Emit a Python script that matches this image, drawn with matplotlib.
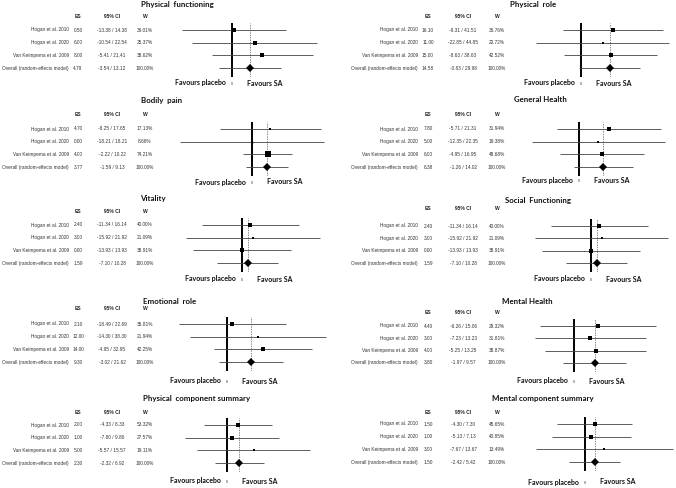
import matplotlib
matplotlib.use("Agg")
import matplotlib.pyplot as plt
import numpy as np

# ---------------- data ----------------
studies = ["Hogan et al. 2010", "Hogan et al. 2020", "Van Keimpema et al. 2009",
           "Overall (random-effects model)"]
outcomes = ["Physical  functioning", "Physical  role", "Bodily  pain", "General Health",
            "Vitality", "Social  Functioning", "Emotional  role", "Mental Health",
            "Physical  component summary", "Mental component summary"]

es_pf = [0.50, 6.00, 8.00, 4.79]
lo_pf = [-13.38, -10.54, -5.41, -3.54]
hi_pf = [14.38, 22.54, 21.41, 13.12]
w_pf = [36.01, 25.37, 38.62, 100.00]

es_pr = [16.10, 11.00, 15.00, 14.58]
lo_pr = [-9.31, -22.85, -8.63, -0.83]
hi_pr = [41.51, 44.85, 38.63, 29.98]
w_pr = [36.76, 20.72, 42.52, 100.00]

es_bp = [4.70, 0.00, 4.00, 3.77]
lo_bp = [-8.25, -18.21, -2.22, -1.59]
hi_bp = [17.65, 18.21, 10.22, 9.13]
w_bp = [17.13, 8.66, 74.21, 100.00]

es_gh = [7.80, 5.00, 6.00, 6.38]
lo_gh = [-5.71, -12.35, -4.95, -1.26]
hi_gh = [21.31, 22.35, 16.95, 14.02]
w_gh = [31.94, 19.38, 48.68, 100.00]

es_vt = [2.40, 3.00, 0.00, 1.59]
lo_vt = [-11.34, -15.92, -13.93, -7.10]
hi_vt = [16.14, 21.92, 13.93, 10.28]
w_vt = [40.00, 21.09, 38.91, 100.00]

es_sf = [2.40, 3.00, 0.00, 1.59]
lo_sf = [-11.34, -15.92, -13.93, -7.10]
hi_sf = [16.14, 21.92, 13.93, 10.28]
w_sf = [40.00, 21.09, 38.91, 100.00]

es_er = [2.10, 12.00, 14.00, 9.30]
lo_er = [-18.49, -14.30, -4.95, -3.02]
hi_er = [22.69, 38.30, 32.95, 21.62]
w_er = [35.81, 21.94, 42.25, 100.00]

es_mh = [4.40, 3.00, 4.00, 3.80]
lo_mh = [-6.26, -7.23, -5.25, -1.97]
hi_mh = [15.06, 13.23, 13.25, 9.57]
w_mh = [29.32, 31.81, 38.87, 100.00]

es_pcs = [2.00, 1.00, 5.00, 2.30]
lo_pcs = [-4.33, -7.80, -5.57, -2.32]
hi_pcs = [8.33, 9.80, 15.57, 6.92]
w_pcs = [53.32, 27.57, 19.11, 100.00]

es_mcs = [1.50, 1.00, 3.00, 1.50]
lo_mcs = [-4.30, -5.13, -7.67, -2.42]
hi_mcs = [7.30, 7.13, 13.67, 5.42]
w_mcs = [45.65, 40.85, 13.49, 100.00]

panel_data = [
    (es_pf, lo_pf, hi_pf, w_pf), (es_pr, lo_pr, hi_pr, w_pr),
    (es_bp, lo_bp, hi_bp, w_bp), (es_gh, lo_gh, hi_gh, w_gh),
    (es_vt, lo_vt, hi_vt, w_vt), (es_sf, lo_sf, hi_sf, w_sf),
    (es_er, lo_er, hi_er, w_er), (es_mh, lo_mh, hi_mh, w_mh),
    (es_pcs, lo_pcs, hi_pcs, w_pcs), (es_mcs, lo_mcs, hi_mcs, w_mcs),
]

# ---------------- layout (pixels) ----------------
W, H = 676, 488
# side, zero_px, px_per_unit, first_row_y, row_step, header_y, title_x, title_y, favours_y
layout = [
    ("L", 232, 3.76, 30, 12.7, 16, 177, 5, 83),
    ("R", 581, 1.97, 30, 12.7, 16, 533, 5, 83),
    ("L", 252, 3.93, 129, 12.7, 115, 162, 100, 182),
    ("R", 579, 3.83, 129, 12.7, 115, 540, 100, 180),
    ("L", 242, 3.54, 225, 12.7, 212, 153, 198, 279),
    ("R", 591, 3.51, 226, 12.4, 209, 538, 200, 279),
    ("L", 227, 2.59, 324, 12.7, 309, 170, 302, 381),
    ("R", 574, 5.44, 326, 12.3, 313, 527, 302, 381),
    ("L", 227, 5.35, 425, 12.7, 413, 197, 398, 481),
    ("R", 585, 6.42, 424, 12.7, 412, 543, 398, 482),
]
cols = {"L": dict(lab=69, es=78, ci=112, w=145, ax0=160, ax1=336),
        "R": dict(lab=418, es=428, ci=463, w=497, ax0=500, ax1=676)}

fig = plt.figure(figsize=(W / 100, H / 100), dpi=100)
fig.patch.set_facecolor("white")


def fx(x):
    return x / W


def fy(y):
    return 1 - y / H


small = dict(family="Liberation Sans", fontsize=3.4, color="#333333")
head = dict(family="Liberation Sans", fontsize=3.6, color="#222222", fontweight="bold")
titlef = dict(family="Lato", fontsize=5.7, fontweight="bold", color="#111111")
favf = dict(family="Lato", fontsize=5.0, fontweight="bold", color="#111111")

for (side, z, s, r0, dr, hy, tx, ty, fvy), (es, lo, hi, w), title in zip(layout, panel_data, outcomes):
    c = cols[side]
    # title
    fig.text(fx(tx), fy(ty), title, ha="center", va="center", **titlef)
    # headers
    fig.text(fx(c["es"]), fy(hy), "ES", ha="center", va="center", **head)
    fig.text(fx(c["ci"]), fy(hy), "95% CI", ha="center", va="center", **head)
    fig.text(fx(c["w"]), fy(hy), "W", ha="center", va="center", **head)
    for i, name in enumerate(studies):
        y = r0 + i * dr
        fig.text(fx(c["lab"]), fy(y), name, ha="right", va="center", **small)
        fig.text(fx(c["es"]), fy(y), f"{es[i]:.2f}", ha="center", va="center", **small)
        fig.text(fx(c["ci"]), fy(y), f"{lo[i]:.2f} / {hi[i]:.2f}", ha="center", va="center", **small)
        fig.text(fx(c["w"]), fy(y), f"{w[i]:.2f}%", ha="center", va="center", **small)

    # forest axes
    top_px = r0 - 7
    bot_px = r0 + 3 * dr + 9
    ax = fig.add_axes([fx(c["ax0"]), fy(bot_px), (c["ax1"] - c["ax0"]) / W, (bot_px - top_px) / H])
    ax.set_xlim((c["ax0"] - z) / s, (c["ax1"] - z) / s)
    ax.set_ylim(3 + 9 / dr, -7 / dr)
    ax.axis("off")
    ax.axvline(0, color="black", lw=1.4, zorder=2)
    ax.axvline(es[3], color="#555555", lw=0.5, ls=(0, (2, 1.5)), zorder=1)
    ypos = np.arange(4)
    ax.hlines(ypos, lo, hi, color="#444444", lw=0.6, zorder=3)
    for i in range(3):
        side_px = 6.0 * np.sqrt(w[i] / 100.0)
        ax.plot(es[i], ypos[i], marker="s", ms=side_px * 0.72, color="black", mec="black", mew=0, zorder=4)
    ax.plot(es[3], ypos[3], marker="D", ms=5.7 * 0.72, color="black", mec="black", mew=0, zorder=4)

    # favours labels
    fig.text(fx(z - 32), fy(fvy), "Favours placebo", ha="center", va="center", **favf)
    fig.text(fx(z + 33), fy(fvy), "Favours SA", ha="center", va="center", **favf)
    fig.text(fx(z), fy(fvy + 1), "0", ha="center", va="center", family="Liberation Sans",
             fontsize=2.6, color="#333333")

fig.savefig("out.png", dpi=100, facecolor="white")
